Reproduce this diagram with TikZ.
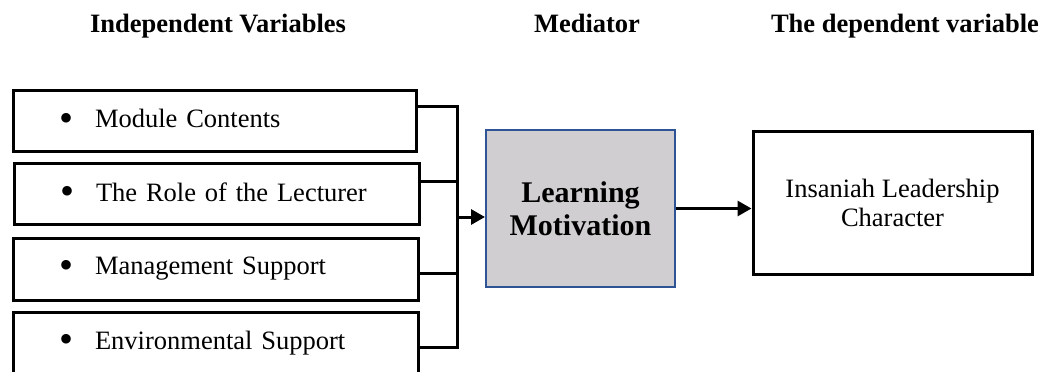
\documentclass[tikz,border=0pt]{standalone}
\usepackage{fontspec}
\setmainfont{Liberation Serif}
\usetikzlibrary{arrows.meta,calc}
\definecolor{medfill}{RGB}{208,206,208}
\definecolor{medborder}{RGB}{47,84,150}
\tikzset{
  x=1pt, y=-1pt,
  hdr/.style={font=\fontsize{26.5}{29}\selectfont\bfseries, inner sep=0pt, anchor=base},
  ivbox/.style={draw=black, line width=3pt, minimum height=61pt, inner xsep=46pt, inner ysep=0pt,
    align=left, font=\fontsize{26.5}{29}\selectfont},
  medbox/.style={draw=medborder, fill=medfill, line width=2pt, minimum width=189pt, minimum height=157pt,
    inner sep=0pt, align=center, font=\fontsize{30}{33}\selectfont\bfseries},
  depbox/.style={draw=black, line width=3pt, minimum width=279pt, minimum height=143pt,
    inner sep=0pt, align=center, font=\fontsize{26.5}{29}\selectfont},
  conn/.style={draw=black, line width=3pt},
  arr/.style={conn, -{Triangle[length=14pt,width=15pt]}},
}
\newcommand{\bul}[1]{\makebox[36pt][l]{\fontsize{40}{40}\selectfont\raisebox{-3.5pt}{\textbullet}}#1}
\begin{document}
\begin{tikzpicture}
\useasboundingbox (0,0) rectangle (1045,372);
% headers
\node[hdr] (h1) at (218,32) {Independent Variables};
\node[hdr] (h2) at (587,32) {Mediator};
\node[hdr] (h3) at (905,32) {The dependent variable};
% independent variable boxes
\node[ivbox, text width=311pt] (b1) at (214.5,120.5) {\bul{Module Contents}};
\node[ivbox, text width=313pt] (b2) at (216.5,193.5) {\bul{The Role of the Lecturer}};
\node[ivbox, text width=313pt, minimum height=62pt] (b3) at (215.5,269) {\bul{Management Support}};
\node[ivbox, text width=313pt, minimum height=62pt] (b4) at (215.5,343) {\bul{Environmental Support}};
% mediator
\node[medbox] (lm) at (580.5,208.5) {Learning\\Motivation};
% dependent
\node[depbox] (ib) at (892.5,202.5) {Insaniah Leadership\\Character};
% bracket
\coordinate (jtop) at (457,106);
\coordinate (jbot) at (457,347);
\coordinate (jmid) at (457,217);
\draw[conn, line join=miter] ([yshift=14.5pt]b1.east) -- ([yshift=14.5pt]b1.east -| jtop) -- (jbot) -- ([yshift=-4pt]b4.east);
\draw[conn] ([yshift=12.5pt]b2.east) -- ([yshift=12.5pt]b2.east -| jtop);
\draw[conn] ([yshift=-4pt]b3.east) -- ([yshift=-4pt]b3.east -| jtop);
\draw[arr] (jmid) -- (jmid -| lm.west);
\draw[arr] (lm.east) -- (lm.east -| ib.west);
\end{tikzpicture}
\end{document}
